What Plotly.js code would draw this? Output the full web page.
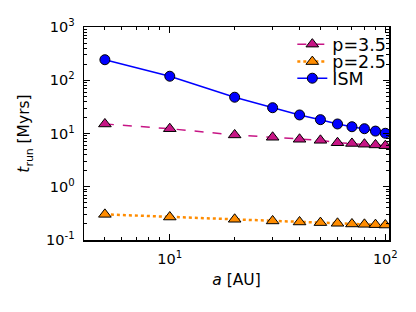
<!DOCTYPE html>
<html>
<head>
<meta charset="utf-8">
<script src="https://cdn.plot.ly/plotly-3.0.1.min.js"></script>
<style>html,body{margin:0;padding:0;background:#fff;}#chart{width:416px;height:312px;}</style>
</head>
<body>
<div id="chart"></div>
<script>
// Data
var semiMajorAxisAU = [5, 10, 20, 30, 40, 50, 60, 70, 80, 90, 100];
var tRunP35 = [15.1, 12.3, 9.4, 8.5, 7.8, 7.45, 6.7, 6.5, 6.3, 6.1, 5.9];
var tRunP25 = [0.303, 0.27, 0.245, 0.228, 0.218, 0.212, 0.206, 0.2, 0.197, 0.194, 0.191];
var tRunISM = [243, 119, 48, 30.5, 22.3, 18.2, 15.1, 13.4, 12.3, 11.1, 10.1];
var seriesNames = ['p=3.5', 'p=2.5', 'ISM'];

var xTickVals = [10, 100];
var xTickText = ['10<sup>1</sup>', '10<sup>2</sup>'];
var yTickVals = [0.1, 1, 10, 100, 1000];
var yTickText = ['10<sup>-1</sup>', '10<sup>0</sup>', '10<sup>1</sup>', '10<sup>2</sup>', '10<sup>3</sup>'];

function minorLogTicks(lo, hi) {
  var out = [];
  for (var d = lo; d < hi; d++) {
    for (var k = 2; k <= 9; k++) out.push(k * Math.pow(10, d));
  }
  return out;
}

var font = 'DejaVu Sans, sans-serif';

var traces = [
  {x: semiMajorAxisAU, y: tRunP35, name: seriesNames[0], mode: 'lines+markers', legend: 'legend',
   line: {color: '#c71585', width: 1.5, dash: '9px,9px'},
   marker: {symbol: 'triangle-up', size: 11, color: '#c71585', line: {color: '#000', width: 1}}},
  {x: semiMajorAxisAU, y: tRunP25, name: seriesNames[1], mode: 'lines+markers', legend: 'legend2',
   line: {color: '#ff8c00', width: 2.5, dash: '3px,3px'},
   marker: {symbol: 'triangle-up', size: 11, color: '#ff8c00', line: {color: '#000', width: 1}}},
  {x: semiMajorAxisAU, y: tRunISM, name: seriesNames[2], mode: 'lines+markers', legend: 'legend3',
   line: {color: '#0000ff', width: 1.5},
   marker: {symbol: 'circle', size: 10, color: '#0000ff', line: {color: '#000', width: 1}}}
];

var axisCommon = {
  type: 'log', showgrid: false, zeroline: false,
  showline: true, linecolor: '#000', linewidth: 1.5, mirror: 'allticks',
  ticks: 'inside', ticklen: 6, tickwidth: 1, tickcolor: '#000',
  tickmode: 'array', tickfont: {family: font, size: 14.5, color: '#000'},
  ticklabelstandoff: 5
};

function legendAt(y) {
  return {x: 0.683, xanchor: 'left', y: y, yanchor: 'middle', bgcolor: 'rgba(0,0,0,0)',
          font: {family: font, size: 17.5, color: '#000'}, itemwidth: 30};
}

var layout = {
  width: 416, height: 312,
  paper_bgcolor: '#fff', plot_bgcolor: '#fff',
  margin: {l: 84, r: 26.5, t: 27, b: 72},
  showlegend: true,
  legend: legendAt(0.919),
  legend2: legendAt(0.837),
  legend3: legendAt(0.759),
  xaxis: Object.assign({}, axisCommon, {
    range: [Math.log10(4), Math.log10(104)],
    tickvals: xTickVals, ticktext: xTickText,
    minor: {tickvals: minorLogTicks(0, 3), ticks: 'inside', ticklen: 3, tickcolor: '#000', tickwidth: 1},
    title: {text: '<i>a</i> [AU]', font: {family: font, size: 15.5, color: '#000'}, standoff: 8}
  }),
  yaxis: Object.assign({}, axisCommon, {
    range: [-1, 3],
    tickvals: yTickVals, ticktext: yTickText,
    minor: {tickvals: minorLogTicks(-1, 3), ticks: 'inside', ticklen: 3, tickcolor: '#000', tickwidth: 1},
    title: {text: '<i>t</i><sub>run</sub> [Myrs]', font: {family: font, size: 15.5, color: '#000'}, standoff: 12}
  })
};

Plotly.newPlot('chart', traces, layout, {displayModeBar: false, staticPlot: true});
</script>
</body>
</html>
